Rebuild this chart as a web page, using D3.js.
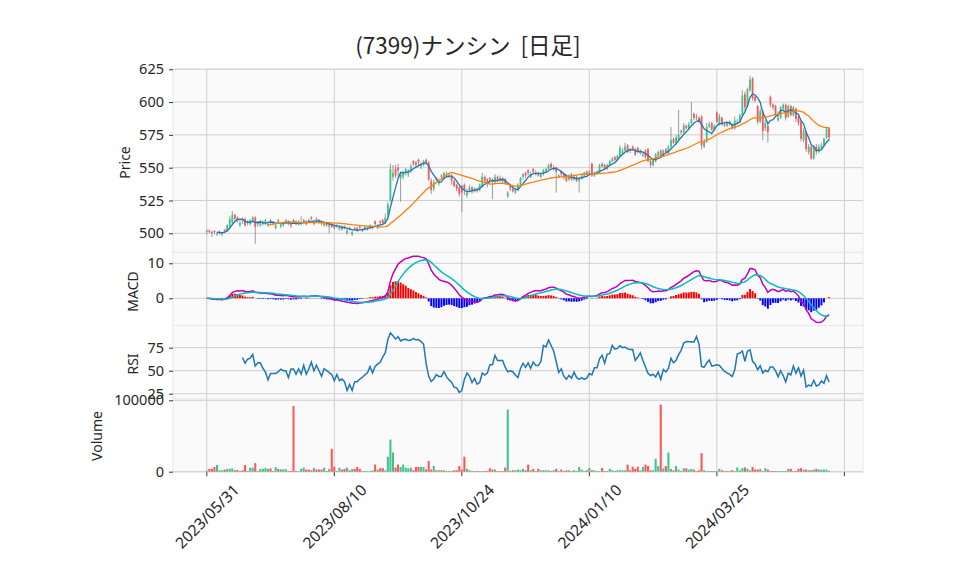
<!DOCTYPE html>
<html>
<head>
<meta charset="utf-8">
<script src="https://cdn.jsdelivr.net/npm/d3@7"></script>
<style>
body { margin: 0; background: #fff; }
text { font-family: "Noto Sans", "DejaVu Sans", sans-serif; fill: #262626; }
</style>
</head>
<body>
<svg width="958" height="575"></svg>
<script>
// chart data (daily candles, index 0 = 2023/05/31)
const title = "(7399)ナンシン\u00a0\u00a0[日足]";
const tickIdx = [0, 50, 100, 150, 200, 250];
const tickLabels = ["2023/05/31", "2023/08/10", "2023/10/24", "2024/01/10", "2024/03/25", ""];

const opens = [
501,502,501,502,499,500,499,503,502,505, 508,514,512,506,511,511,509,507,509,512,
508,506,507,507,506,510,507,504,510,505, 506,508,509,507,510,509,507,507,508,509,
510,512,507,511,510,508,506,508,505,507, 506,505,503,505,505,500,504,499,504,504,
505,502,503,503,504,504,509,504,509,510, 508,514,525,543,549,550,542,543,546,545,
548,555,554,556,551,552,556,554,540,534, 542,538,544,542,544,543,544,540,537,535,
536,537,529,532,535,532,534,533,536,543, 541,542,541,539,543,540,542,541,528,536,
534,531,533,537,543,546,548,543,549,545, 546,543,545,547,549,553,548,550,543,547,
545,544,541,545,541,543,540,542,544,547, 545,553,544,546,547,553,552,549,552,555,
558,556,559,561,563,567,564,566,564,565, 561,559,563,564,555,552,555,559,563,559,
564,561,566,572,569,571,578,577,582,580, 584,591,589,588,589,566,570,581,584,579,
592,583,588,583,582,585,583,580,584,585, 590,606,597,609,618,604,597,585,593,580,
582,604,598,597,586,588,595,598,589,597, 590,595,589,585,571,577,562,566,557,566,
562,565,567,573,580];
const highs = [
503,503,502,502,501,502,501,503,507,513, 517,515,513,510,512,512,510,511,513,513,
509,510,510,511,509,511,509,507,511,508, 509,511,510,508,511,510,510,513,511,510,
511,513,510,512,511,509,509,509,508,508, 507,507,506,506,506,504,505,502,505,505,
506,504,506,505,507,506,510,507,510,511, 515,524,553,552,552,553,547,548,550,549,
553,556,555,557,554,556,557,555,542,541, 543,542,545,547,547,546,545,541,538,536,
537,538,534,537,536,535,535,538,546,544, 542,543,542,545,544,544,543,542,532,537,
536,534,538,543,546,547,549,547,550,548, 547,546,549,550,553,554,552,551,545,548,
546,545,545,546,544,544,543,545,547,548, 548,554,547,548,553,554,553,553,556,558,
559,560,567,565,569,568,565,567,565,566, 564,562,564,565,556,557,561,563,564,564,
565,567,581,573,575,594,579,584,583,585, 600,592,591,589,590,572,584,585,585,583,
593,591,589,585,585,586,584,589,587,591, 609,608,611,620,619,605,598,595,594,586,
583,605,599,598,593,597,599,599,598,598, 597,596,590,586,580,578,568,567,567,568,
568,569,573,581,581];
const lows = [
499,500,497,499,498,499,498,500,501,504, 507,509,508,505,507,505,506,506,508,492,
505,505,506,506,505,507,506,503,508,504, 505,507,506,504,507,506,506,506,507,506,
508,510,506,509,507,506,505,505,500,504, 503,504,502,502,503,499,502,498,502,501,
503,501,502,502,503,503,506,503,507,507, 507,512,524,540,542,543,524,541,544,543,
546,551,550,552,549,551,553,540,530,532, 539,536,541,541,543,542,537,535,532,528,
516,529,527,531,530,531,531,532,535,538, 535,537,526,538,539,539,538,537,527,532,
531,530,532,536,541,542,544,542,545,544, 543,542,544,546,548,549,548,531,542,543,
541,539,540,540,540,539,531,541,543,544, 544,543,543,545,546,550,548,548,551,554,
555,555,558,560,562,561,561,563,559,561, 560,558,557,554,550,551,554,558,558,558,
561,560,565,568,568,570,575,576,579,579, 583,586,586,584,564,565,569,580,578,578,
584,582,582,581,581,582,579,579,583,584, 589,593,596,608,601,600,583,584,571,578,
569,596,594,589,585,587,594,586,588,589, 589,585,582,570,569,562,560,556,556,560,
561,564,566,572,570];
const closes = [
502,501,500,501,500,501,500,502,506,511, 514,511,510,508,510,506,508,510,512,505,
507,509,508,510,507,509,508,506,509,507, 508,510,507,506,508,507,509,508,510,507,
509,511,509,510,508,507,508,506,507,505, 504,506,505,503,504,502,503,501,503,502,
504,503,505,504,506,505,507,506,508,508, 512,522,549,546,544,548,545,546,549,547,
551,553,552,554,553,555,554,541,533,539, 541,540,543,546,545,544,540,536,534,530,
531,533,531,535,532,534,533,537,543,540, 538,541,539,543,540,542,540,538,531,534,
532,533,537,542,545,544,546,545,547,546, 544,545,548,549,552,550,549,547,544,545,
543,540,544,541,543,540,542,544,546,545, 547,544,546,547,552,551,549,552,555,557,
556,559,565,563,566,562,563,564,560,562, 563,560,558,555,552,556,560,562,559,563,
562,566,571,569,573,575,577,582,580,583, 587,588,588,585,567,570,581,583,579,582,
585,589,583,582,584,583,580,586,585,590, 605,596,610,617,603,601,585,593,578,584,
577,598,596,590,588,596,598,588,597,590, 596,587,584,572,578,564,566,557,566,562,
566,567,572,580,573];
const volumes = [
1500,4000,4000,6600,9400,2000,2000,3000,4000,4000, 4700,2000,2400,1000,2000,9400,1000,5700,5700,12000,
1000,4000,4000,5200,4000,4700,1000,6600,4000,3500, 3500,3500,1000,1000,92000,1000,1000,4000,5700,3000,
3000,2000,5200,3000,3000,3000,5700,1000,4000,32000, 7000,1000,5700,3000,4000,5700,2000,4000,4000,6600,
4000,1000,1000,1000,1000,2000,10000,3000,5000,5000, 2000,21000,45000,27000,5700,10000,6600,10000,5700,4700,
5700,2000,6600,6600,6600,6600,3000,15000,3000,8000, 2000,2000,2000,2000,1000,1000,1000,2000,2000,8000,
3000,21000,4000,2000,1000,1000,1000,1000,1000,1000, 1000,4700,3000,3000,1000,1000,1000,5700,87000,1000,
2000,2000,3000,2000,4000,2000,10000,2000,4000,1000, 4000,2000,2000,2000,2000,1000,2000,4000,1000,3000,
1000,2000,2000,1000,2000,1000,6600,3000,1000,2000, 5200,2000,2000,1000,1000,5200,1000,1000,4000,2000,
1000,2000,2000,2000,2000,10000,2000,7000,4000,7000, 2000,6600,10000,8000,2000,2000,18000,8000,94000,4700,
8000,27000,4000,2000,8000,3000,1000,4700,4700,3000, 4000,3000,1000,2000,26000,2000,1000,1000,1000,1000,
1000,4000,2000,1000,1000,1000,2000,1000,6000,2000, 5000,6000,4000,2000,6600,3000,3000,4000,1000,5000,
3000,1000,1000,1000,1000,1000,1000,1000,4000,4000, 1000,1000,4000,5000,3000,3000,2000,2000,3000,4000,
3000,3000,3000,3000,1000];

const upColor = "#3fc38a", downColor = "#fe5656";

// indicators
function sma(arr, n) {
    return arr.map((v, i) => i < n - 1 ? null : d3.mean(arr.slice(i - n + 1, i + 1)));
}
function ema(arr, n) {
    let k = 2 / (n + 1), prev, out = [];
    arr.forEach((v, i) => { prev = i === 0 ? v : v * k + prev * (1 - k); out.push(prev); });
    return out;
}
// simple-average rsi
function rsi(arr, n) {
    return arr.map((v, i) => {
        if (i < n) return null;
        let g = 0, l = 0;
        for (let j = i - n + 1; j <= i; j++) {
            let d = arr[j] - arr[j - 1];
            if (d > 0) g += d; else l -= d;
        }
        return g + l === 0 ? 50 : 100 * g / (g + l);
    });
}

const ma5 = sma(closes, 5), ma25 = sma(closes, 25);
const ema12 = ema(closes, 12), ema26 = ema(closes, 26);
const macd = ema12.map((v, i) => v - ema26[i]);
const signal = ema(macd, 9);
const hist = macd.map((v, i) => v - signal[i]);
const rsiVals = rsi(closes, 14);
const n = closes.length;
const idx = d3.range(n);

let svg = d3.select("svg");
const left = 173, right = 863;
const x = d3.scaleLinear().domain([-13.25, 257.3]).range([left, right]);
const step = x(1) - x(0);

let panels = [
    {name: "Price", top: 69, bottom: 252.3, domain: [485.5, 625.2], ticks: [500, 525, 550, 575, 600, 625], lx: 130, ly: 162.5},
    {name: "MACD", top: 252.3, bottom: 325.6, domain: [-7.8, 13.14], ticks: [0, 10], lx: 138, ly: 291.5},
    {name: "RSI", top: 325.6, bottom: 398.9, domain: [19.35, 99], ticks: [25, 50, 75], lx: 138, ly: 364},
    {name: "Volume", top: 398.9, bottom: 472.2, domain: [-700, 101960], ticks: [0, 100000], lx: 102, ly: 436}
];

panels.forEach((p, k) => {
    p.y = d3.scaleLinear().domain(p.domain).range([p.bottom, p.top]);
    let g = svg.append("g");
    g.append("rect")
        .attr("x", left).attr("y", p.top)
        .attr("width", right - left).attr("height", p.bottom - p.top)
        .attr("fill", "#fafafa").attr("stroke", "#e8e8e8");

    g.selectAll(".vg").data(tickIdx).enter().append("line")
        .attr("x1", d => x(d)).attr("x2", d => x(d))
        .attr("y1", p.top).attr("y2", p.bottom)
        .attr("stroke", "#cfcfcf");
    g.selectAll(".hg").data(p.ticks).enter().append("line")
        .attr("x1", left).attr("x2", right)
        .attr("y1", d => p.y(d)).attr("y2", d => p.y(d))
        .attr("stroke", "#cfcfcf");

    let ax = g.append("g")
        .attr("transform", `translate(${left},0)`)
        .attr("color", "#333")
        .call(d3.axisLeft(p.y).tickValues(p.ticks).tickSize(4).tickPadding(5).tickFormat(d3.format("d")));
    ax.select(".domain").remove();
    ax.selectAll("text").style("font-size", "14.5px");

    svg.append("text")
        .attr("transform", `translate(${p.lx},${p.ly}) rotate(-90)`)
        .attr("text-anchor", "middle")
        .style("font-size", "14px")
        .text(p.name);

    svg.append("clipPath").attr("id", "clip" + k)
        .append("rect").attr("x", left).attr("y", p.top)
        .attr("width", right - left).attr("height", p.bottom - p.top);
    p.g = svg.append("g").attr("clip-path", `url(#clip${k})`);
});

// price panel: candles + moving averages
let pp = panels[0];
pp.g.selectAll(".wick").data(idx).enter().append("line")
    .attr("x1", i => x(i)).attr("x2", i => x(i))
    .attr("y1", i => pp.y(highs[i])).attr("y2", i => pp.y(lows[i]))
    .attr("stroke", "#8f8f8f").attr("stroke-width", 0.9);
pp.g.selectAll(".body").data(idx).enter().append("rect")
    .attr("x", i => x(i) - step * 0.35)
    .attr("width", step * 0.7)
    .attr("y", i => pp.y(Math.max(opens[i], closes[i])))
    .attr("height", i => Math.max(0.8, Math.abs(pp.y(opens[i]) - pp.y(closes[i]))))
    .attr("fill", i => closes[i] >= opens[i] ? upColor : downColor);

function drawLine(p, vals, color, w) {
    p.g.append("path")
        .datum(vals)
        .attr("fill", "none")
        .attr("stroke", color)
        .attr("stroke-width", w)
        .attr("d", d3.line().defined(d => d != null).x((d, i) => x(i)).y(d => p.y(d)));
}
drawLine(pp, ma5, "#1f77b4", 1.3);
drawLine(pp, ma25, "#ff7f0e", 1.3);

// macd panel
let mp = panels[1];
mp.g.selectAll(".hist").data(idx).enter().append("rect")
    .attr("x", i => x(i) - step * 0.38)
    .attr("width", step * 0.76)
    .attr("y", i => mp.y(Math.max(0, hist[i])))
    .attr("height", i => Math.abs(mp.y(hist[i]) - mp.y(0)))
    .attr("fill", i => hist[i] >= 0 ? "#ff0000" : "#0000ff");
drawLine(mp, macd, "#bf00bf", 1.5);
drawLine(mp, signal, "#00bfbf", 1.5);

// rsi panel
drawLine(panels[2], rsiVals, "#1f77b4", 1.5);

// volume panel
let vp = panels[3];
vp.g.selectAll(".vol").data(idx).enter().append("rect")
    .attr("x", i => x(i) - step * 0.4)
    .attr("width", step * 0.8)
    .attr("y", i => vp.y(volumes[i]))
    .attr("height", i => vp.y(0) - vp.y(volumes[i]))
    .attr("fill", i => closes[i] >= opens[i] ? upColor : downColor);

// x axis
svg.selectAll(".xt").data(tickIdx).enter().append("line")
    .attr("x1", d => x(d)).attr("x2", d => x(d))
    .attr("y1", vp.bottom).attr("y2", vp.bottom + 4)
    .attr("stroke", "#333");
svg.selectAll(".xl").data(tickIdx).enter().append("text")
    .attr("text-anchor", "middle")
    .attr("dominant-baseline", "central")
    .style("font-size", "15.5px")
    .text((d, i) => tickLabels[i])
    .attr("transform", function(d) {
        let w = this.getComputedTextLength();
        let half = (w + 16) / Math.SQRT2 / 2;
        return `translate(${x(d)},${vp.bottom + 9 + half}) rotate(-45)`;
    });

svg.append("text")
    .attr("x", 468).attr("y", 54)
    .attr("text-anchor", "middle")
    .style("font-family", "'Noto Sans CJK JP', sans-serif")
    .style("font-size", "22.5px")
    .text(title);
</script>
</body>
</html>
